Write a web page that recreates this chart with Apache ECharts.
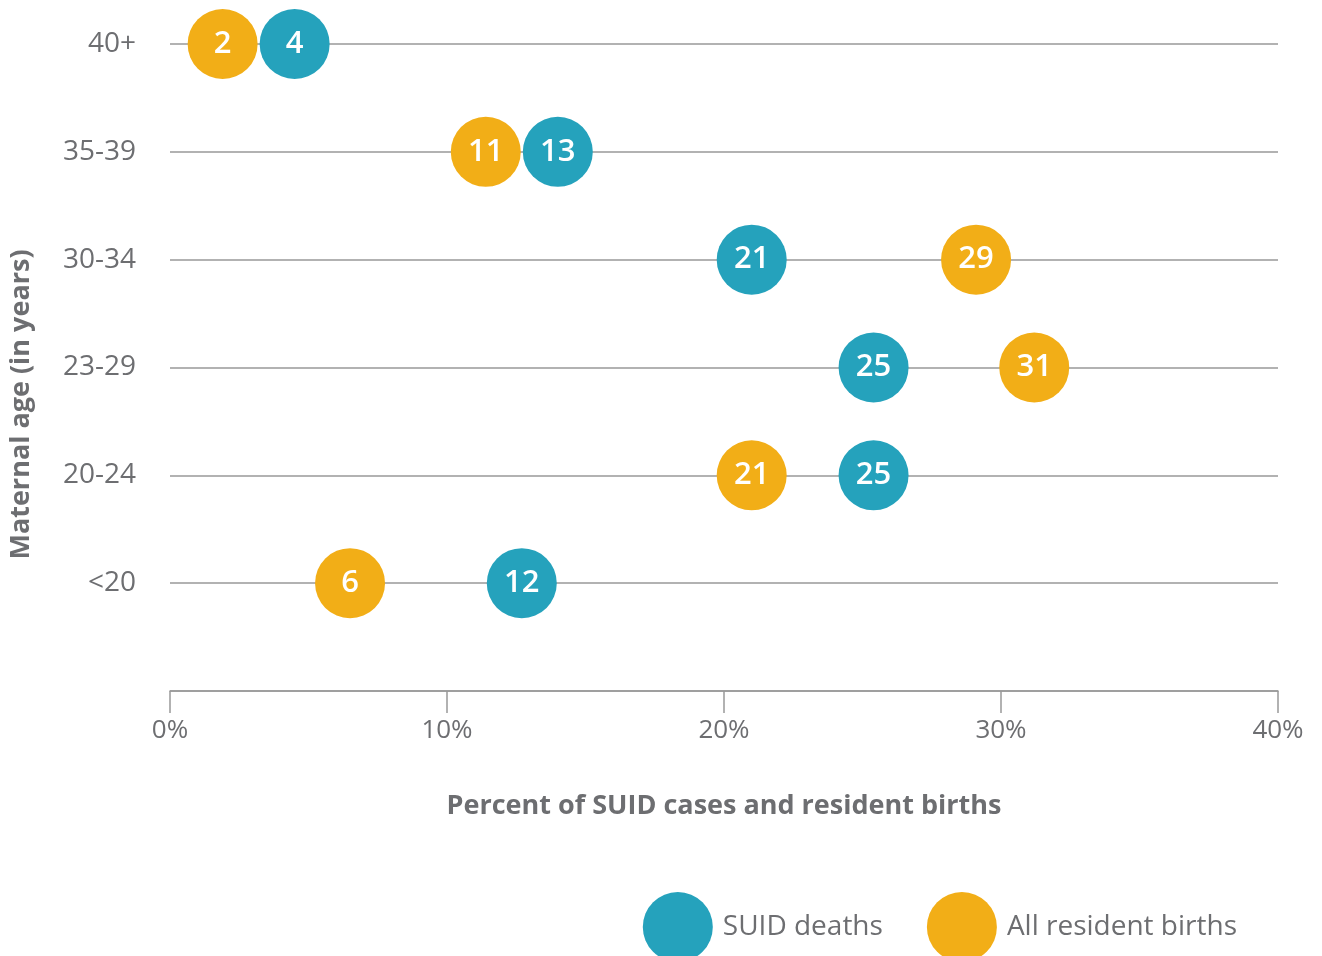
<!DOCTYPE html>
<html>
<head>
<meta charset="utf-8">
<script src="https://cdn.jsdelivr.net/npm/echarts@6/dist/echarts.min.js"></script>
<style>
  html, body { margin: 0; padding: 0; background: #fff; }
  #chart { width: 1322px; height: 956px; }
</style>
</head>
<body>
<div id="chart"></div>
<script>
// age groups, bottom to top (first slot left empty so the x axis sits one row below "<20")
var ageGroups = ['', '<20', '20-24', '23-29', '30-34', '35-39', '40+'];
// percent positions (x) for each age group
var suidPct   = [null, 12.7, 25.4, 25.4, 21.0, 14.0, 4.5];
var birthsPct = [null, 6.5, 21.0, 31.2, 29.1, 11.4, 1.9];
// rounded labels shown inside the bubbles
var suidLabel   = [null, 12, 25, 25, 21, 13, 4];
var birthsLabel = [null, 6, 21, 31, 29, 11, 2];
var xTicks = [0, 10, 20, 30, 40];

var blue = '#25A2BC';
var orange = '#F2AE17';
var grey = '#6d6e71';
var font = 'Open Sans';

function toPoints(pcts, labels) {
  var pts = [];
  for (var i = 0; i < pcts.length; i++) {
    if (pcts[i] == null) continue;
    pts.push({ value: [pcts[i], ageGroups[i]], label: { formatter: String(labels[i]) } });
  }
  return pts;
}

var chart = echarts.init(document.getElementById('chart'));
var bubbleLabel = {
  show: true,
  position: 'inside',
  color: '#fff',
  fontSize: 31,
  fontWeight: 600,
  fontFamily: font
};

chart.setOption({
  animation: false,
  textStyle: { fontFamily: font },
  grid: { left: 170, right: 44, top: 44, bottom: 265, containLabel: false, outerBoundsMode: 'none' },
  legend: {
    data: ['SUID deaths', 'All resident births'],
    right: 80,
    top: 887,
    icon: 'circle',
    itemWidth: 70,
    itemHeight: 70,
    itemGap: 44,
    textStyle: { color: grey, fontSize: 28, fontFamily: font, padding: [0, 0, 0, 5] }
  },
  xAxis: {
    type: 'value',
    min: xTicks[0],
    max: xTicks[xTicks.length - 1],
    interval: 10,
    name: 'Percent of SUID cases and resident births',
    nameLocation: 'middle',
    nameGap: 102,
    nameTextStyle: { color: grey, fontSize: 27, fontWeight: 'bold', fontFamily: font },
    axisLine: { show: true, lineStyle: { color: '#999', width: 1.5 } },
    axisTick: { show: true, length: 22, lineStyle: { color: '#999', width: 1.5 } },
    axisLabel: { color: grey, fontSize: 26, margin: 27, formatter: '{value}%', fontFamily: font },
    splitLine: { show: false }
  },
  yAxis: {
    type: 'category',
    data: ageGroups,
    boundaryGap: false,
    name: 'Maternal age (in years)',
    nameLocation: 'middle',
    nameGap: 135,
    nameRotate: 90,
    nameTextStyle: { color: grey, fontSize: 27, fontWeight: 'bold', fontFamily: font, padding: [0, 74, 0, 0] },
    axisLine: { show: false },
    axisTick: { show: false },
    axisLabel: { color: grey, fontSize: 28, margin: 34, fontFamily: font },
    splitLine: { show: true, lineStyle: { color: '#999', width: 1.5 } }
  },
  series: [
    {
      name: 'SUID deaths',
      type: 'scatter',
      symbolSize: 70,
      itemStyle: { color: blue, opacity: 1 },
      label: bubbleLabel,
      data: toPoints(suidPct, suidLabel),
      z: 3
    },
    {
      name: 'All resident births',
      type: 'scatter',
      symbolSize: 70,
      itemStyle: { color: orange, opacity: 1 },
      label: bubbleLabel,
      data: toPoints(birthsPct, birthsLabel),
      z: 3
    }
  ]
});
</script>
</body>
</html>
